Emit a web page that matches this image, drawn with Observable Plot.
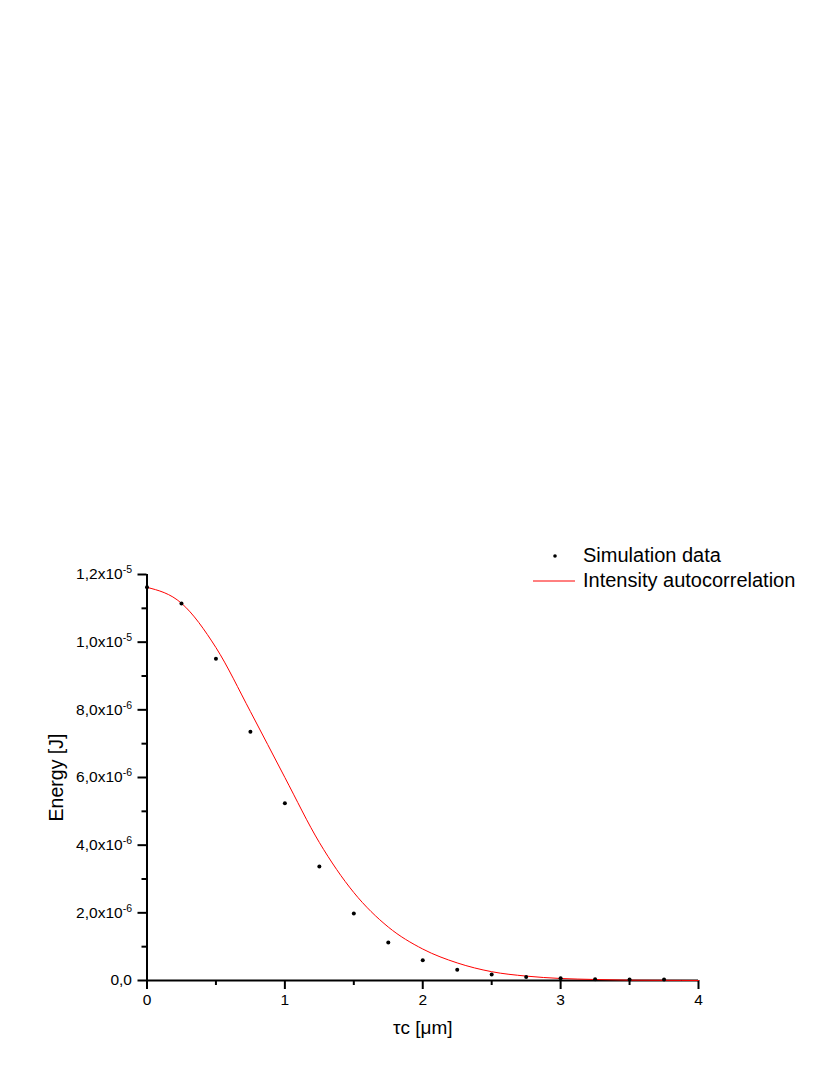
<!DOCTYPE html>
<html>
<head>
<meta charset="utf-8">
<script src="https://cdn.jsdelivr.net/npm/d3@7"></script>
<script src="https://cdn.jsdelivr.net/npm/@observablehq/plot@0.6"></script>
<style>
  body { margin: 0; background: #fff; font-family: "Liberation Sans", Arial, sans-serif; }
  #wrap { position: relative; width: 830px; height: 1075px; }
  #wrap > svg { position: absolute; left: 0; top: 0; }
  #legend { position: absolute; left: 530px; top: 543px; font-size: 20px; color: #000; line-height: 25px; }
  #legend .row { display: flex; align-items: center; white-space: nowrap; }
  #legend svg { margin-right: 7px; }
</style>
</head>
<body>
<div id="wrap">
  <div id="legend"></div>
</div>
<script>
// ---- data ----
const tau = [0, 0.25, 0.5, 0.75, 1.0, 1.25, 1.5, 1.75, 2.0, 2.25, 2.5, 2.75, 3.0, 3.25, 3.5, 3.75];
const simEnergy = [11.62, 11.14, 9.51, 7.35, 5.24, 3.37, 1.98, 1.12, 0.60, 0.32, 0.18, 0.10, 0.07, 0.04, 0.03, 0.03].map(v => v * 1e-6);
const fitTau = [0, 0.25, 0.5, 0.75, 1.0, 1.25, 1.5, 1.75, 2.0, 2.25, 2.5, 2.75, 3.0, 3.25, 3.5, 3.75, 4.0];
const fitEnergy = [11.62, 11.15, 9.84, 7.95, 6.00, 4.08, 2.60, 1.58, 0.93, 0.52, 0.26, 0.13, 0.06, 0.03, 0.01, 0.005, 0.0].map(v => v * 1e-6);
const xTicks = [0, 1, 2, 3, 4];
const xMinorTicks = [0.5, 1.5, 2.5, 3.5];
const yTicks = [0, 2e-6, 4e-6, 6e-6, 8e-6, 1e-5, 1.2e-5];
const yMinorTicks = [1e-6, 3e-6, 5e-6, 7e-6, 9e-6, 1.1e-5];
const yTickLabels = ["0,0", "2,0x10^-6", "4,0x10^-6", "6,0x10^-6", "8,0x10^-6", "1,0x10^-5", "1,2x10^-5"];
const legendLabels = ["Simulation data", "Intensity autocorrelation"];
const xLabel = "\u03C4c [\u03BCm]";
const yLabel = "Energy [J]";

const sim = tau.map((t, i) => ({x: t, y: simEnergy[i]}));
const fit = fitTau.map((t, i) => ({x: t, y: fitEnergy[i]}));

const chart = Plot.plot({
  width: 830,
  height: 1075,
  marginLeft: 146.5,
  marginRight: 132,
  marginTop: 574,
  marginBottom: 95,
  style: {fontFamily: '"Liberation Sans", Arial, sans-serif', fontSize: "15px", background: "white", color: "black"},
  x: {domain: [0, 4]},
  y: {domain: [0, 1.2e-5]},
  marks: [
    Plot.axisX({ticks: xTicks, tickSize: 9, tickPadding: 4, strokeWidth: 2, tickFormat: d => String(d), label: null}),
    Plot.axisX({ticks: xMinorTicks, tickSize: 5, strokeWidth: 2, tickFormat: () => "", label: null}),
    Plot.axisY({ticks: yTicks, tickSize: 9, tickPadding: 6, strokeWidth: 2, tickFormat: d => yTickLabels[Math.round(d / 2e-6)], label: null}),
    Plot.axisY({ticks: yMinorTicks, tickSize: 5, strokeWidth: 2, tickFormat: () => "", label: null}),
    Plot.ruleX([0], {stroke: "black", strokeWidth: 2}),
    Plot.ruleY([0], {stroke: "black", strokeWidth: 2}),
    Plot.line(fit, {x: "x", y: "y", stroke: "#ff0000", strokeWidth: 1, curve: "monotone-x"}),
    Plot.dot(sim, {x: "x", y: "y", r: 2, fill: "black", stroke: "none"}),
    Plot.text([yLabel], {frameAnchor: "left", textAnchor: "middle", dx: -90, rotate: -90, fontSize: 19.5, fill: "black"}),
    Plot.text([xLabel], {frameAnchor: "bottom", textAnchor: "middle", dy: 53, fontSize: 19, fill: "black"})
  ]
});

// tick label sizes and superscripts
d3.select(chart).selectAll("text").each(function() {
  const g = this.closest('g[aria-label*="tick label"]');
  if (!g) return;
  this.style.fontSize = "15.5px";
  const s = this.textContent;
  if (s.includes("^")) {
    const [base, exp] = s.split("^");
    const t = d3.select(this);
    t.text(base);
    t.append("tspan").attr("dy", "-6").style("font-size", "10.5px").text(exp);
  }
});

const wrap = document.getElementById("wrap");
wrap.insertBefore(chart, wrap.firstChild);

// legend
const legend = d3.select("#legend");
const r1 = legend.append("div").attr("class", "row");
const s1 = r1.append("svg").attr("width", 46).attr("height", 20);
s1.append("circle").attr("cx", 25).attr("cy", 10).attr("r", 1.8).attr("fill", "black");
r1.append("span").text(legendLabels[0]);
const r2 = legend.append("div").attr("class", "row");
const s2 = r2.append("svg").attr("width", 46).attr("height", 20);
s2.append("line").attr("x1", 3).attr("x2", 45).attr("y1", 10).attr("y2", 10).attr("stroke", "#ff0000").attr("stroke-width", 1);
r2.append("span").text(legendLabels[1]);
</script>
</body>
</html>
